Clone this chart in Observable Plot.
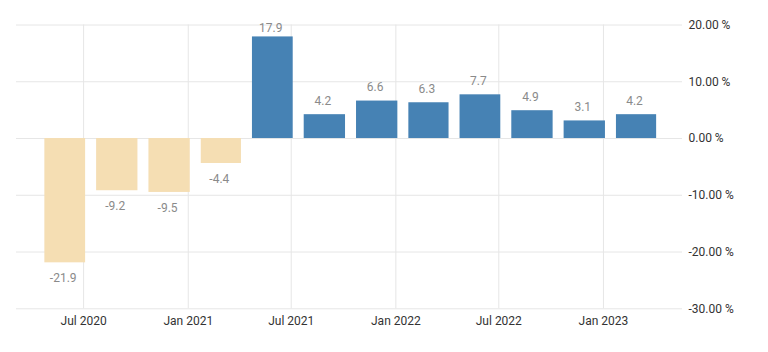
<!DOCTYPE html>
<html>
<head>
<meta charset="utf-8">
<script src="https://cdn.jsdelivr.net/npm/d3@7"></script>
<script src="https://cdn.jsdelivr.net/npm/@observablehq/plot@0.6"></script>
<style>
html, body { margin: 0; padding: 0; background: #fff; }
svg { display: block; }
</style>
</head>
<body>
<div id="chart"></div>
<script>
// Quarter start dates and growth values (%)
const quarters = ["2020-04-01","2020-07-01","2020-10-01","2021-01-01","2021-04-01","2021-07-01","2021-10-01","2022-01-01","2022-04-01","2022-07-01","2022-10-01","2023-01-01"];
const values = [-21.9, -9.2, -9.5, -4.4, 17.9, 4.2, 6.6, 6.3, 7.7, 4.9, 3.1, 4.2];
const xTickDates = ["2020-07-01","2021-01-01","2021-07-01","2022-01-01","2022-07-01","2023-01-01"];
const yTicks = [20, 10, 0, -10, -20, -30];
const xDomain = ["2020-03-05", "2023-05-20"];
const yDomain = [-30, 20];

const data = quarters.map((q, i) => {
  const start = new Date(q + "T00:00:00Z");
  const end = d3.utcMonth.offset(start, 3);
  return { start, end, mid: new Date((+start + +end) / 2), value: values[i] };
});
const xTicks = xTickDates.map(s => new Date(s + "T00:00:00Z"));
const labelCap = yDomain[1] - 2.9;

const chart = Plot.plot({
  width: 768,
  height: 352,
  marginLeft: 16,
  marginRight: 86,
  marginTop: 24.5,
  marginBottom: 43.7,
  style: { fontFamily: "Roboto, sans-serif", fontSize: "12px", background: "#fff" },
  x: { type: "utc", domain: xDomain.map(s => new Date(s + "T00:00:00Z")), label: null },
  y: { domain: yDomain, label: null },
  color: { domain: ["neg", "pos"], range: ["#f5deb3", "#4682b4"] },
  marks: [
    Plot.gridY(yTicks, { stroke: "#e6e6e6", strokeOpacity: 1 }),
    Plot.gridX(xTicks, { stroke: "#e6e6e6", strokeOpacity: 1 }),
    Plot.rectY(data, {
      x1: "start", x2: "end", y: "value",
      fill: d => d.value < 0 ? "neg" : "pos",
      insetLeft: 13, insetRight: -2
    }),
    Plot.text(data.filter(d => d.value >= 0), {
      x: "mid", y: d => Math.min(d.value, labelCap), dx: 5.5, dy: -13.7,
      text: d => d.value.toFixed(1), fill: "#8a8a8a", fontSize: 12
    }),
    Plot.text(data.filter(d => d.value < 0), {
      x: "mid", y: "value", dx: 5.5, dy: 15.5,
      text: d => d.value.toFixed(1), fill: "#8a8a8a", fontSize: 12
    }),
    Plot.axisY(yTicks, {
      anchor: "right", tickSize: 0, tickPadding: 6,
      tickFormat: d => d.toFixed(2) + " %", fill: "#333", fontSize: 12, label: null
    }),
    Plot.axisX(xTicks, {
      anchor: "bottom", tickSize: 0, tickPadding: 8,
      tickFormat: d3.utcFormat("%b %Y"), fill: "#333", fontSize: 12, label: null
    })
  ]
});
document.getElementById("chart").appendChild(chart);
</script>
</body>
</html>
